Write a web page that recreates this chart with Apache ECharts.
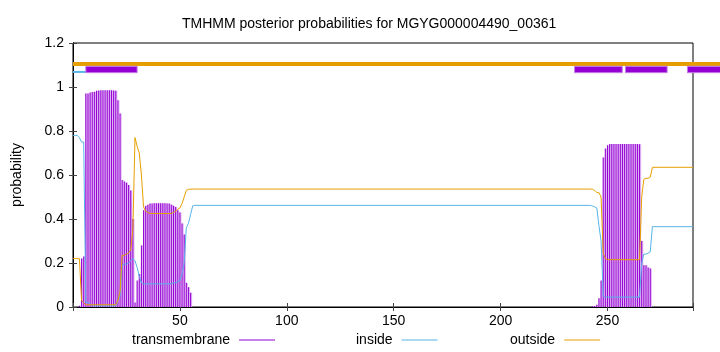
<!DOCTYPE html>
<html>
<head>
<meta charset="utf-8">
<script src="https://cdn.jsdelivr.net/npm/echarts@6/dist/echarts.min.js"></script>
<style>html,body{margin:0;padding:0;background:#fff}#c{width:720px;height:352px}</style>
</head>
<body>
<div id="c"></div>
<script>
// ---- data ----
const titleText = 'TMHMM posterior probabilities for MGYG000004490_00361';
const xTicks = [50, 100, 150, 200, 250];
const yTicks = [0, 0.2, 0.4, 0.6, 0.8, 1, 1.2];

// transmembrane posterior (position, probability), zero elsewhere
const tmProb = [[3,0.006],[4,0.22],[5,0.23],[6,0.97],[7,0.97],[8,0.975],[9,0.977],[10,0.978],
  [11,0.983],[12,0.984],[13,0.985],[14,0.985],[15,0.985],[16,0.985],[17,0.985],[18,0.985],[19,0.984],[20,0.983],
  [21,0.94],[22,0.88],[23,0.577],[24,0.57],[25,0.565],[26,0.555],[27,0.53],[28,0.4],[29,0.02],[30,0.12],
  [31,0.15],[32,0.28],[33,0.44],[34,0.46],[35,0.465],[36,0.47],[37,0.471],[38,0.472],[39,0.472],[40,0.472],
  [41,0.472],[42,0.472],[43,0.472],[44,0.471],[45,0.47],[46,0.465],[47,0.46],[48,0.455],[49,0.44],[50,0.43],
  [51,0.38],[52,0.33],[53,0.11],[54,0.09],[55,0.065],
  [243,0.003],[244,0.005],[245,0.01],[246,0.04],[247,0.12],[248,0.68],[249,0.72],[250,0.735],
  [251,0.741],[252,0.741],[253,0.741],[254,0.741],[255,0.741],[256,0.741],[257,0.741],[258,0.741],
  [259,0.741],[260,0.741],[261,0.741],[262,0.741],[263,0.741],[264,0.741],[265,0.74],
  [266,0.3],[267,0.19],[268,0.19],[269,0.18],[270,0.175]];

// inside posterior
const insideProb = [[0,0.78],[1,0.78],[2,0.78],[3,0.77],[4,0.75],[5,0.75],[6,0.02],[7,0.02],[8,0.015],
  [9,0.005],[20,0.005],[21,0.03],[22,0.05],[23,0.19],[24,0.195],[25,0.195],[26,0.2],[27,0.21],[28,0.22],
  [29,0.21],[30,0.18],[31,0.14],[32,0.11],[33,0.105],[46,0.105],[47,0.11],[48,0.11],[49,0.115],[50,0.12],
  [51,0.15],[52,0.2],[53,0.36],[54,0.38],[55,0.42],[56,0.46],[57,0.462],[242,0.462],[243,0.459],[244,0.455],
  [245,0.45],[246,0.37],[247,0.3],[248,0.05],[249,0.045],[265,0.045],[266,0.2],[267,0.24],[268,0.24],
  [269,0.245],[270,0.25],[271,0.365],[290,0.365]];

// outside posterior
const outsideProb = [[0,0.22],[1,0.22],[2,0.22],[3,0.22],[4,0.03],[5,0.02],[6,0.01],[20,0.01],[21,0.03],
  [22,0.07],[23,0.235],[24,0.235],[25,0.24],[26,0.245],[27,0.26],[28,0.35],[29,0.77],[30,0.73],[31,0.7],
  [32,0.6],[33,0.455],[34,0.435],[35,0.43],[36,0.425],[46,0.425],[47,0.43],[48,0.435],[49,0.445],[50,0.45],
  [51,0.47],[52,0.5],[53,0.53],[54,0.535],[56,0.536],[242,0.536],[243,0.535],[244,0.53],[245,0.52],
  [246,0.52],[247,0.5],[248,0.245],[249,0.22],[250,0.215],[265,0.215],[266,0.5],[267,0.58],[268,0.585],
  [269,0.585],[270,0.59],[271,0.635],[290,0.635]];

// predicted topology segments drawn above the plot (start, end)
const topoTM = [[6,30],[234.6,256.9],[258.4,277.9],[287.4,305]];
const topoInside = [[0,6]];
const topoOutside = [[0,305]];

// ---- chart ----
const FONT = "'Liberation Sans', Arial, sans-serif";
const chart = echarts.init(document.getElementById('c'), null, {renderer: 'canvas'});

function bandRenderer(y0, y1, fill, stroke) {
  return function (params, api) {
    const p0 = api.coord([api.value(0), y1]);
    const p1 = api.coord([api.value(1), y0]);
    return {
      type: 'rect',
      shape: {x: p0[0], y: p0[1], width: p1[0] - p0[0], height: p1[1] - p0[1]},
      style: {fill: fill, stroke: stroke || null, lineWidth: stroke ? 1 : 0}
    };
  };
}

const tickStyle = {show: true, inside: true, length: 4, lineStyle: {color: '#444', width: 1}};
const legendText = {fontFamily: FONT, fontSize: 14, color: '#000', padding: [0, 4, 0, 0]};

chart.setOption({
  animation: false,
  backgroundColor: '#fff',
  textStyle: {fontFamily: FONT},
  title: {
    text: titleText, left: 177, top: 12,
    textStyle: {fontFamily: FONT, fontSize: 14, fontWeight: 'normal', color: '#000'}
  },
  grid: {left: 73, right: 27, top: 43, bottom: 45, show: true, borderColor: '#000', borderWidth: 1, backgroundColor: 'transparent'},
  legend: [
    {data: ['transmembrane'], left: 132, top: 333, padding: 0, align: 'right', icon: 'rect', itemWidth: 36, itemHeight: 1.2,
      textStyle: legendText, selectedMode: false},
    {data: ['inside'], left: 356, top: 333, padding: 0, align: 'right', icon: 'rect', itemWidth: 36, itemHeight: 1.2,
      textStyle: legendText, selectedMode: false},
    {data: ['outside'], left: 510, top: 333, padding: 0, align: 'right', icon: 'rect', itemWidth: 36, itemHeight: 1.2,
      textStyle: legendText, selectedMode: false}
  ],
  xAxis: [
    {type: 'value', min: 0, max: 290, interval: 50, position: 'bottom',
      axisLine: {show: true, lineStyle: {color: '#000'}}, axisTick: tickStyle, splitLine: {show: false},
      axisLabel: {margin: 7, fontSize: 14, color: '#000', fontFamily: FONT,
        formatter: v => (xTicks.indexOf(v) >= 0 ? String(v) : '')}},
    {type: 'value', min: 0, max: 290, interval: 50, position: 'top',
      axisLine: {show: true, lineStyle: {color: '#000'}}, axisTick: tickStyle, splitLine: {show: false},
      axisLabel: {show: false}}
  ],
  yAxis: [
    {type: 'value', min: 0, max: 1.2, interval: 0.2, position: 'left',
      name: 'probability', nameLocation: 'middle', nameGap: 49, nameRotate: 90,
      nameTextStyle: {fontFamily: FONT, fontSize: 14, color: '#000'},
      axisLine: {show: true, lineStyle: {color: '#000'}}, axisTick: tickStyle, splitLine: {show: false},
      axisLabel: {margin: 9, fontSize: 14, color: '#000', fontFamily: FONT,
        formatter: v => { const t = yTicks.find(k => Math.abs(k - v) < 1e-9); return t === undefined ? '' : String(t); }}},
    {type: 'value', min: 0, max: 1.2, interval: 0.2, position: 'right',
      axisLine: {show: true, lineStyle: {color: '#000'}}, axisTick: tickStyle, splitLine: {show: false},
      axisLabel: {show: false}}
  ],
  series: [
    {name: 'tmLight', type: 'bar', data: tmProb, barWidth: 2.1, barGap: '-100%',
      itemStyle: {color: '#dfb2f3'}, silent: true, z: 2},
    {name: 'transmembrane', type: 'bar', data: tmProb, barWidth: 0.9, barGap: '-100%',
      itemStyle: {color: '#9400d3'}, z: 3},
    {name: 'inside', type: 'line', data: insideProb, showSymbol: false, symbol: 'none',
      lineStyle: {color: '#56b4e9', width: 1}, itemStyle: {color: '#56b4e9'}, z: 4},
    {name: 'outside', type: 'line', data: outsideProb, showSymbol: false, symbol: 'none',
      lineStyle: {color: '#e69f00', width: 1}, itemStyle: {color: '#e69f00'}, z: 5},
    {name: 'topoOutside', type: 'custom', data: topoOutside, clip: false, silent: true, z: 6,
      renderItem: bandRenderer(1.095, 1.114, '#e69f00')},
    {name: 'topoInside', type: 'custom', data: topoInside, clip: false, silent: true, z: 6,
      renderItem: bandRenderer(1.064, 1.073, '#56b4e9')},
    {name: 'topoTM', type: 'custom', data: topoTM, clip: false, silent: true, z: 7,
      renderItem: bandRenderer(1.065, 1.094, '#9400d3', '#c27ee8')}
  ]
});
</script>
</body>
</html>
